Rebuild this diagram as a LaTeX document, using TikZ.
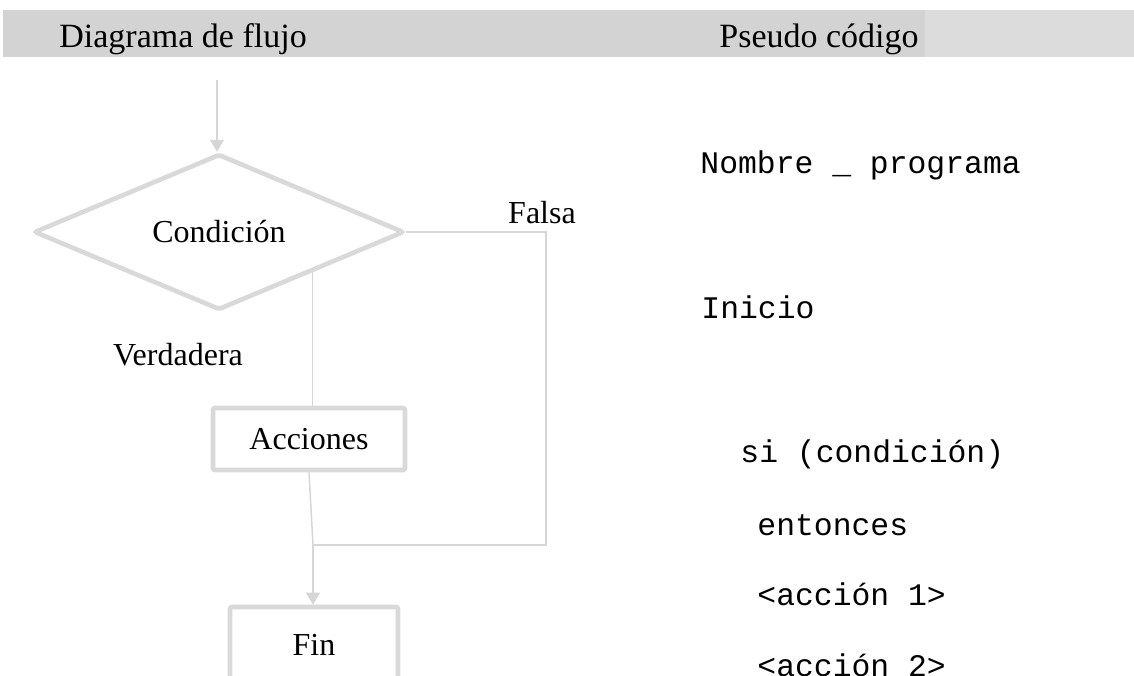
\documentclass[tikz,border=0pt]{standalone}
\usepackage{fontspec}
\setmainfont{Liberation Serif}
\setmonofont{Liberation Mono}
\usetikzlibrary{shapes.geometric,arrows.meta}
\definecolor{bandA}{HTML}{D3D3D3}
\definecolor{bandB}{HTML}{DCDCDC}
\definecolor{thick}{HTML}{D9D9D9}
\definecolor{thin}{HTML}{D6D6D6}
\tikzset{
  flowbox/.style={draw=thick, line width=2.3pt, rounded corners=1pt, fill=white, inner sep=0pt, font=\fontsize{16}{19}\selectfont},
  conn/.style={draw=thin, line width=0.75pt},
  arr/.style={conn, -{Triangle[width=7pt,length=6pt]}},
  lbl/.style={font=\fontsize{16}{19}\selectfont, inner sep=0pt},
  hdr/.style={font=\fontsize{17}{20}\selectfont, anchor=base west, inner sep=0pt},
  code/.style={font=\ttfamily\fontsize{15.7}{18}\selectfont, anchor=base west, inner sep=0pt}
}
\begin{document}
\begin{tikzpicture}[x=0.5pt,y=-0.5pt]
\useasboundingbox (0,0) rectangle (1134,675);
\clip (0,0) rectangle (1134,675);
% header band
\fill[bandB] (3,10) rectangle (1134,57);
\fill[bandA] (3,10) rectangle (925,57);
\node[hdr] (h1) at (59,47) {Diagrama de flujo};
\node[hdr] (h2) at (719,47) {Pseudo código};
% flowchart
\coordinate (start) at (217,80);
\node[flowbox, shape=diamond, minimum width=185pt, minimum height=70pt] (cond) at (219,232) {Condición};
\node[flowbox, shape=rectangle, minimum width=96pt, minimum height=31pt] (acc) at (309,439) {Acciones};
\node[flowbox, shape=rectangle, minimum width=84pt, minimum height=38pt] (fin) at (314,645) {Fin};
\coordinate (j) at (313,545);
\coordinate (fc) at (546,545);
\draw[arr] (start) -- (start |- cond.north);
\draw[conn] (cond.south east) -- (cond.south east |- acc.north);
\draw[conn] (acc.south) -- (j);
\draw[arr] (j) -- (j |- fin.north);
\draw[conn] (cond.east) -| (fc) -- (j);
\node[lbl] (falsa) at (542,213) {Falsa};
\node[lbl] (verd) at (178,355) {Verdadera};
% pseudo code
\node[code] (c1) at (700,173) {Nombre \_ programa};
\node[code] (c2) at (701,318) {Inicio};
\node[code] (c3) at (740,462) {si (condición)};
\node[code] (c4) at (757,535) {entonces};
\node[code] (c5) at (757,605) {<acción 1>};
\node[code] (c6) at (757,676) {<acción 2>};
\end{tikzpicture}
\end{document}
